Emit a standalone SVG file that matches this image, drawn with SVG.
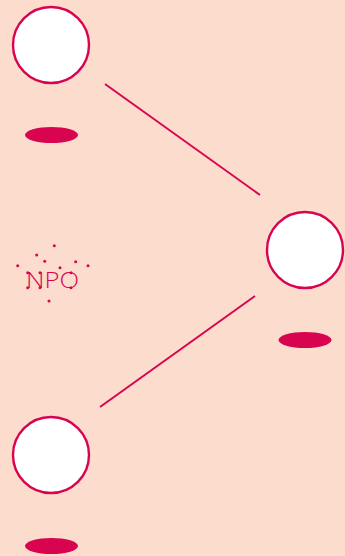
<svg xmlns="http://www.w3.org/2000/svg" width="345" height="556" viewBox="0 0 345 556">
<style>
.node circle.c{fill:#ffffff;stroke:#d90450;stroke-width:2.4}
.shadow{fill:#d90450}
.edge{stroke:#d90450;stroke-width:2;fill:none}
.dot{fill:#d90450}
.lbl{font-family:"Open Sans","Liberation Sans",sans-serif;font-size:22px;font-weight:300;fill:#d90450}
</style>
<rect x="0" y="0" width="345" height="556" fill="#fcdccc"/>
<g id="connectors">
<line class="edge" x1="105" y1="84" x2="260" y2="195"/>
<line class="edge" x1="255" y1="296" x2="100" y2="407"/>
</g>
<g id="node-top" class="node">
<circle class="c" cx="51" cy="45" r="38"/>
<ellipse class="shadow" cx="51.5" cy="135" rx="26.5" ry="8"/>
</g>
<g id="node-right" class="node">
<circle class="c" cx="305" cy="250" r="38"/>
<ellipse class="shadow" cx="305" cy="340" rx="26.5" ry="8"/>
</g>
<g id="node-bottom" class="node">
<circle class="c" cx="51" cy="455" r="38"/>
<ellipse class="shadow" cx="51.5" cy="546" rx="26.5" ry="8"/>
</g>
<g id="label">
<text class="lbl" x="26" y="288" textLength="53" lengthAdjust="spacingAndGlyphs">NPO</text>
<circle class="dot" cx="54.3" cy="245.7" r="1.5"/>
<circle class="dot" cx="36.7" cy="255" r="1.5"/>
<circle class="dot" cx="44.7" cy="261.3" r="1.5"/>
<circle class="dot" cx="17.7" cy="265.7" r="1.5"/>
<circle class="dot" cx="60" cy="267.7" r="1.5"/>
<circle class="dot" cx="75.7" cy="261.7" r="1.5"/>
<circle class="dot" cx="88" cy="265.7" r="1.5"/>
<circle class="dot" cx="27.7" cy="272.7" r="1.5"/>
<circle class="dot" cx="40" cy="272.7" r="1.5"/>
<circle class="dot" cx="27.7" cy="287.7" r="1.5"/>
<circle class="dot" cx="40" cy="287.7" r="1.5"/>
<circle class="dot" cx="71" cy="272.7" r="1.5"/>
<circle class="dot" cx="71" cy="287.7" r="1.5"/>
<circle class="dot" cx="49" cy="301" r="1.5"/>
</g>
</svg>
